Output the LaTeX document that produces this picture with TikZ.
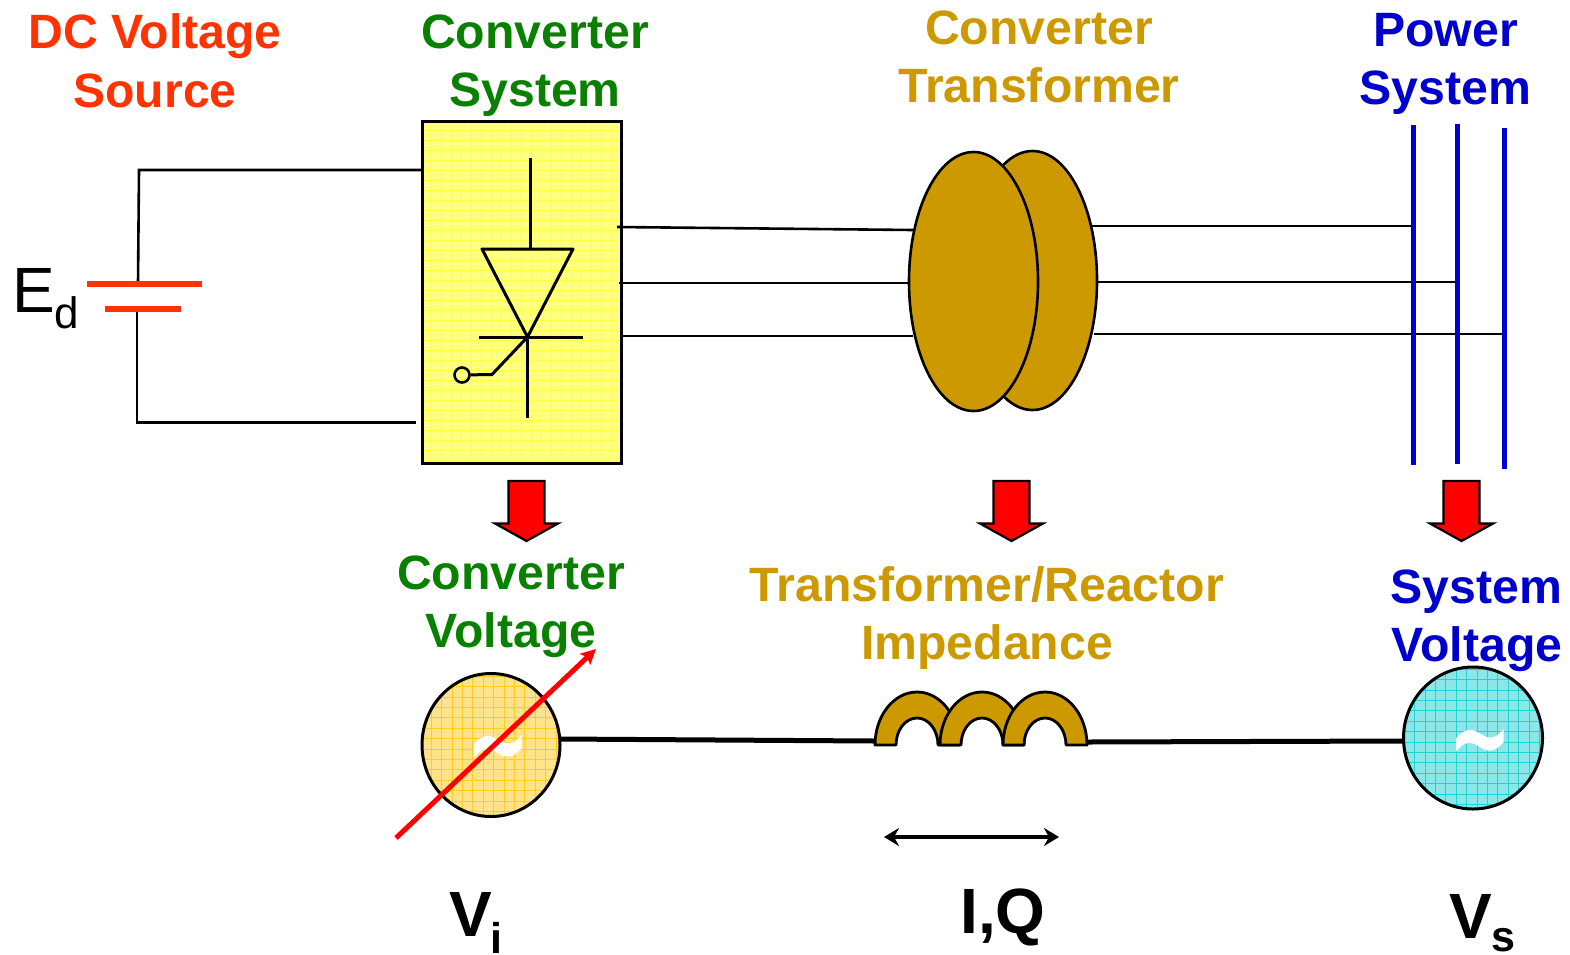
\documentclass[tikz,border=0pt]{standalone}
\usepackage{fontspec}
\setmainfont{Liberation Sans}
\newfontfamily\tildefont{DejaVu Sans}
\usetikzlibrary{arrows.meta,shapes.geometric}
\definecolor{dcred}{HTML}{FF3300}
\definecolor{convgreen}{HTML}{0A8000}
\definecolor{gold}{HTML}{CC9900}
\definecolor{sysblue}{HTML}{0000CC}
\definecolor{boxyellow}{HTML}{FFFF80}
\definecolor{gridyellow}{HTML}{FFFF44}
\definecolor{srcyellow}{HTML}{FFE38A}
\definecolor{gridsrc}{HTML}{FFCC22}
\definecolor{srccyan}{HTML}{8CE8E8}
\definecolor{gridcyan}{HTML}{22D3D3}
\newcommand{\arch}[1]{%
  \draw[coilshape] (#1-42,745) arc[start angle=180,end angle=0,x radius=42pt,y radius=53pt]
    -- ++(-21,0) arc[start angle=0,end angle=180,x radius=21pt,y radius=27pt] -- cycle;}
\newcommand{\blockarrow}[1]{%
  \draw[blockarr] (#1-18,481) -- (#1+18,481) -- (#1+18,523.5) -- (#1+31.5,523.5) -- (#1,541)
    -- (#1-31.5,523.5) -- (#1-18,523.5) -- cycle;}
\tikzset{
  x=1pt,y=-1pt,
  title/.style={font=\bfseries\fontsize{48.2}{58}\selectfont,align=center,anchor=base,inner sep=0pt},
  wire/.style={draw=black,line width=2.6pt},
  thick wire/.style={draw=black,line width=5pt},
  symb/.style={draw=black,line width=3pt},
  batt/.style={draw=dcred,line width=5.5pt},
  bus/.style={draw=sysblue,line width=5pt},
  coilshape/.style={fill=gold,draw=black,line width=2.8pt,line join=round},
  blockarr/.style={fill=red,draw=black,line width=2.2pt,line join=miter},
  xfmr/.style={ellipse,fill=gold,draw=black,line width=2.6pt,minimum width=129pt,minimum height=259pt,inner sep=0pt},
  bigtext/.style={inner sep=0pt,anchor=base west},
  tilde/.style={inner sep=0pt,text=white,font=\tildefont\bfseries\fontsize{76}{76}\selectfont},
}
\begin{document}
\begin{tikzpicture}
\useasboundingbox (0,0) rectangle (1570,954);
% titles
\node[title,text=dcred] (t1) at (155,48.5) {DC Voltage};
\node[title,text=dcred] (t2) at (155,107) {Source};
\node[title,text=convgreen] (t3) at (535,48) {Converter};
\node[title,text=convgreen] (t4) at (535,106) {System};
\node[title,text=gold] (t5) at (1039,44) {Converter};
\node[title,text=gold] (t6) at (1039,102) {Transformer};
\node[title,text=sysblue] (t7) at (1445.5,46) {Power};
\node[title,text=sysblue] (t8) at (1445.5,104) {System};
\node[title,text=convgreen] (t9) at (511,589) {Converter};
\node[title,text=convgreen] (t10) at (511,647) {Voltage};
\node[title,text=gold] (t11) at (987,601) {Transformer/Reactor};
\node[title,text=gold] (t12) at (987,659) {Impedance};
\node[title,text=sysblue] (t13) at (1476.5,603) {System};
\node[title,text=sysblue] (t14) at (1477,661) {Voltage};
% converter box
\fill[boxyellow] (422,121) rectangle (621,463);
\begin{scope}
\clip (422,121) rectangle (621,463);
\foreach \i in {0,...,20} \draw[gridyellow,line width=.6pt] (431+\i*10,121) -- (431+\i*10,463);
\foreach \i in {0,...,34} \draw[gridyellow,line width=.6pt] (422,130+\i*10) -- (621,130+\i*10);
\end{scope}
\node[draw=black,line width=3pt,minimum width=199pt,minimum height=342pt,inner sep=0pt] (box) at (521.5,292) {};
% DC side
\coordinate (bt) at (139,170);
\coordinate (bb) at (137,422.5);
\coordinate (pos) at (138,284);
\coordinate (neg) at (137,309);
\coordinate (boxin) at (422,170);
\coordinate (boxout) at (416,422.5);
\draw[wire] (pos) -- (bt) -- (boxin);
\draw[wire] (neg) -- (bb) -- (boxout);
\coordinate (p1) at (87,284); \coordinate (p2) at (202,284);
\coordinate (n1) at (105,309); \coordinate (n2) at (181,309);
\draw[batt] (p1) -- (p2);
\draw[batt] (n1) -- (n2);
\node[bigtext,font=\fontsize{64}{64}\selectfont] (ed) at (12.5,312) {E};
\node[bigtext,font=\fontsize{44}{44}\selectfont] (edsub) at (54,328) {d};
% thyristor
\coordinate (a) at (530.5,158);
\coordinate (b) at (530.5,249);
\coordinate (tl) at (482,249);
\coordinate (tr) at (573,249);
\coordinate (k) at (527.5,337);
\coordinate (kl) at (479,337);
\coordinate (kr) at (583,337);
\coordinate (kd) at (527.5,418);
\coordinate (gk) at (492,374.5);
\draw[symb] (a) -- (b);
\draw[symb,line join=round] (tl) -- (tr) -- (k) -- cycle;
\draw[symb] (kl) -- (kr);
\draw[symb] (k) -- (kd);
\node[circle,draw=black,line width=2.6pt,minimum size=15pt,inner sep=0pt] (gate) at (462,375) {};
\draw[symb] (k) -- (gk) -- (gate);
% transformer
\node[xfmr] (xb) at (1032.5,280.5) {};
\node[xfmr] (xf) at (973.5,281.5) {};
% wires
\coordinate (c1) at (617,227); \coordinate (c2) at (619,283); \coordinate (c3) at (621,336);
\coordinate (x1) at (913,230); \coordinate (x2) at (908,283); \coordinate (x3) at (913,336);
\coordinate (y1) at (1091,226); \coordinate (y2) at (1097,282); \coordinate (y3) at (1094,334);
\coordinate (s1) at (1413,226); \coordinate (s2) at (1457,282); \coordinate (s3) at (1507,334);
\draw[wire] (c1) -- (x1);
\draw[wire] (c2) -- (x2);
\draw[wire] (c3) -- (x3);
\draw[wire] (y1) -- (s1);
\draw[wire] (y2) -- (s2);
\draw[wire] (y3) -- (s3);
% buses
\coordinate (b1t) at (1413,125); \coordinate (b1b) at (1413,465);
\coordinate (b2t) at (1457,124); \coordinate (b2b) at (1457,464);
\coordinate (b3t) at (1504.5,128); \coordinate (b3b) at (1504.5,469);
\draw[bus] (b1t) -- (b1b);
\draw[bus] (b2t) -- (b2b);
\draw[bus] (b3t) -- (b3b);
% block arrows
\blockarrow{526.5}
\blockarrow{1011.5}
\blockarrow{1461.5}
% sources
\begin{scope}
\clip (491,745) ellipse [x radius=69pt,y radius=71.5pt];
\fill[srcyellow] (420,670) rectangle (562,820);
\foreach \i in {0,...,13} \draw[gridsrc,line width=.6pt] (431+\i*10.4,670) -- (431+\i*10.4,820);
\foreach \i in {0,...,14} \draw[gridsrc,line width=.6pt] (420,676+\i*10.4) -- (562,676+\i*10.4);
\end{scope}
\node[ellipse,draw=black,line width=3pt,minimum width=138pt,minimum height=143pt,inner sep=0pt] (vi) at (491,745) {};
\begin{scope}
\clip (1473,738) ellipse [x radius=69.5pt,y radius=71pt];
\fill[srccyan] (1400,665) rectangle (1545,812);
\foreach \i in {0,...,14} \draw[gridcyan,line width=.6pt] (1404+\i*10.4,665) -- (1404+\i*10.4,812);
\foreach \i in {0,...,14} \draw[gridcyan,line width=.6pt] (1400,669+\i*10.4) -- (1545,669+\i*10.4);
\end{scope}
\node[ellipse,draw=black,line width=3pt,minimum width=139pt,minimum height=142pt,inner sep=0pt] (vs) at (1473,738) {};
\node[tilde] (tilde1) at (498,758.5) {\scalebox{1}[1.5]{\char`~}};
\node[tilde] (tilde2) at (1480,752.5) {\scalebox{1}[1.5]{\char`~}};
\coordinate (rs) at (396,838);
\coordinate (re) at (596,649);
\draw[red,line width=5pt,-{Stealth[length=15pt,width=15pt,inset=3pt]}] (rs) -- (re);
% inductor
\coordinate (li) at (875,741);
\coordinate (lo) at (1087,742);
\coordinate (vio) at (560,739);
\coordinate (vsi) at (1404,741);
\draw[thick wire] (vio) -- (li);
\draw[thick wire] (lo) -- (vsi);
\arch{917}
\arch{982}
\arch{1045}
\coordinate (ia) at (884,837);
\coordinate (ib) at (1059,837);
\draw[black,line width=3.6pt,{Stealth[length=15pt,width=18pt,inset=5pt]}-{Stealth[length=15pt,width=18pt,inset=5pt]}] (ia) -- (ib);
% symbols
\node[bigtext,font=\bfseries\fontsize{64}{64}\selectfont] (vit) at (449,936) {V};
\node[bigtext,font=\bfseries\fontsize{43}{43}\selectfont] (visub) at (490,953) {i};
\node[inner sep=0pt,anchor=base,font=\bfseries\fontsize{64}{64}\selectfont] (iq) at (1003,933) {I,Q};
\node[bigtext,font=\bfseries\fontsize{64}{64}\selectfont] (vst) at (1449,938) {V};
\node[bigtext,font=\bfseries\fontsize{43}{43}\selectfont] (vssub) at (1491.5,951) {s};
\end{tikzpicture}
\end{document}
